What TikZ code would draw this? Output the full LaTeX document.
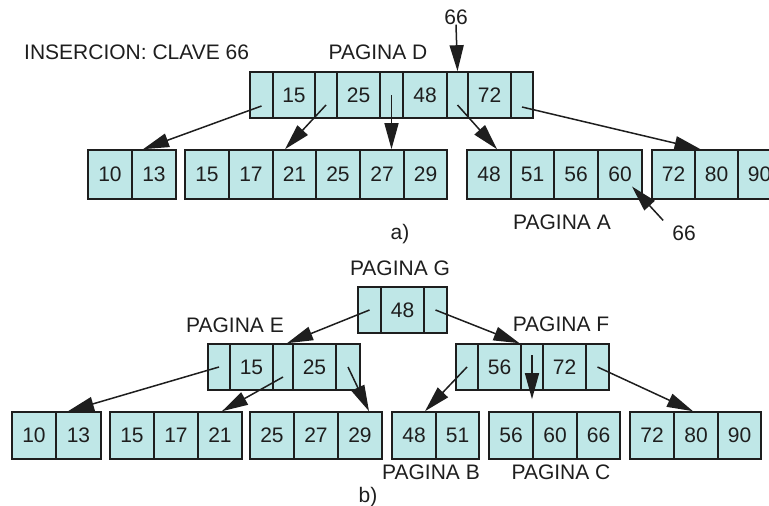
\documentclass[tikz,border=0pt]{standalone}
\usepackage{fontspec}
\setmainfont{Liberation Sans}
\usetikzlibrary{arrows.meta}
\definecolor{cellfill}{RGB}{191,231,231}
\definecolor{ink}{RGB}{30,30,30}
% \bcell{name}{left}{right}{top}{bottom}{text}
\newcommand\bcell[6]{\node[cellbox, minimum width={(#3-#2)*1pt}, minimum height={(#5-#4)*1pt}] (#1) at ({(#2+#3)/2},{(#4+#5)/2}) {#6};}
\begin{document}
\begin{tikzpicture}[x=1pt,y=-1pt,
  cellbox/.style={draw=ink, fill=cellfill, line width=1.6pt, inner sep=0pt,
    font=\fontsize{21}{25}\selectfont, text=ink},
  ptr/.style={-{Triangle[length=26pt,width=14pt]}, line width=1.5pt, draw=ink, fill=ink},
  lbl/.style={font=\fontsize{21}{25}\selectfont, text=ink, inner sep=0pt}]
\useasboundingbox (0,0) rectangle (769,506);
\clip (0,0) rectangle (769,506);

% ---------- a) ----------
\node[lbl, anchor=west] (title) at (24,52) {INSERCION: CLAVE 66};
\node[lbl] (pagD) at (378,52) {PAGINA D};
\node[lbl] (kTop) at (456,17) {66};

% page D
\bcell{Dp0}{250}{273}{72}{118}{}
\bcell{D15}{273}{315}{72}{118}{15}
\bcell{Dp1}{315}{337}{72}{118}{}
\bcell{D25}{337}{380}{72}{118}{25}
\bcell{Dp2}{380}{403}{72}{118}{}
\bcell{D48}{403}{447}{72}{118}{48}
\bcell{Dp3}{447}{468}{72}{118}{}
\bcell{D72}{468}{511}{72}{118}{72}
\bcell{Dp4}{511}{533}{72}{118}{}

% leaves
\bcell{a10}{88}{132}{150}{199}{10}
\bcell{a13}{132}{176}{150}{199}{13}
\bcell{a15}{185}{229}{150}{199}{15}
\bcell{a17}{229}{273}{150}{199}{17}
\bcell{a21}{273}{316}{150}{199}{21}
\bcell{a25}{316}{360}{150}{199}{25}
\bcell{a27}{360}{404}{150}{199}{27}
\bcell{a29}{404}{447}{150}{199}{29}
\bcell{a48}{467}{511}{150}{199}{48}
\bcell{a51}{511}{554}{150}{199}{51}
\bcell{a56}{554}{598}{150}{199}{56}
\bcell{a60}{598}{642}{150}{199}{60}
\bcell{a72}{652}{695}{150}{199}{72}
\bcell{a80}{695}{738}{150}{199}{80}
\bcell{a90}{738}{781}{150}{199}{90}

\node[lbl] (pagA) at (562,222) {PAGINA A};
\node[lbl] (kBot) at (684,233) {66};
\node[lbl] (capA) at (400,234) {a)};

\draw[ptr] ([yshift=-11pt]Dp0.center) -- ([xshift=-11pt]a13.north);
\draw[ptr] ([yshift=-10pt]Dp1.center) -- ([xshift=-9.5pt]a21.north);
\draw[ptr] (Dp2.center) -- (Dp2.center |- a27.north);
\draw[ptr] ([yshift=-10pt]Dp3.center) -- ([xshift=8pt]a48.north);
\draw[ptr] ([yshift=-12pt]Dp4.center) -- ([xshift=-16pt]a80.north);
\draw[ptr] (kTop.south) -- (Dp3.north);
\draw[ptr] ([xshift=-9pt,yshift=5pt]kBot.north west) -- ([xshift=12pt,yshift=-12pt]a60.center);

% ---------- b) ----------
\node[lbl] (pagG) at (400,268) {PAGINA G};
\node[lbl] (pagE) at (235,325) {PAGINA E};
\node[lbl] (pagF) at (561,324) {PAGINA F};

% page G
\bcell{Gp0}{358}{381}{287}{333}{}
\bcell{G48}{381}{424}{287}{333}{48}
\bcell{Gp1}{424}{447}{287}{333}{}

% page E
\bcell{Ep0}{208}{230}{344}{390}{}
\bcell{E15}{230}{273}{344}{390}{15}
\bcell{Ep1}{273}{293}{344}{390}{}
\bcell{E25}{293}{336}{344}{390}{25}
\bcell{Ep2}{336}{360}{344}{390}{}

% page F
\bcell{Fp0}{456}{478}{344}{390}{}
\bcell{F56}{478}{521}{344}{390}{56}
\bcell{Fp1}{521}{543}{344}{390}{}
\bcell{F72}{543}{586}{344}{390}{72}
\bcell{Fp2}{586}{609}{344}{390}{}

% leaves
\bcell{b10}{12}{56}{412}{459}{10}
\bcell{b13}{56}{101}{412}{459}{13}
\bcell{b15}{110}{154}{412}{459}{15}
\bcell{b17}{154}{198}{412}{459}{17}
\bcell{b21}{198}{242}{412}{459}{21}
\bcell{b25}{250}{294}{412}{459}{25}
\bcell{b27}{294}{338}{412}{459}{27}
\bcell{b29}{338}{382}{412}{459}{29}
\bcell{b48}{392}{436}{412}{459}{48}
\bcell{b51}{436}{479}{412}{459}{51}
\bcell{b56}{489}{533}{412}{459}{56}
\bcell{b60}{533}{577}{412}{459}{60}
\bcell{b66}{577}{620}{412}{459}{66}
\bcell{b72}{630}{674}{412}{459}{72}
\bcell{b80}{674}{718}{412}{459}{80}
\bcell{b90}{718}{761}{412}{459}{90}

\node[lbl] (pagB) at (431,472) {PAGINA B};
\node[lbl] (pagC) at (561,472) {PAGINA C};
\node[lbl] (capB) at (368,497) {b)};

\draw[ptr] (Gp0.center) -- ([xshift=4pt]Ep1.north);
\draw[ptr] (Gp1.center) -- ([xshift=20pt]F56.north);
\draw[ptr] (Ep0.center) -- ([xshift=-10.5pt]b13.north);
\draw[ptr] ([yshift=-10pt]Ep1.center) -- ([xshift=2pt]b21.north);
\draw[ptr] (Ep2.center) -- ([xshift=9pt]b29.north);
\draw[ptr] (Fp0.center) -- ([xshift=11pt]b48.north);
\draw[ptr] ([yshift=12pt]Fp1.center) -- ([yshift=12pt]Fp1.center |- b60.north);
\draw[ptr] (Fp2.center) -- ([xshift=-3pt]b80.north);
\end{tikzpicture}
\end{document}
